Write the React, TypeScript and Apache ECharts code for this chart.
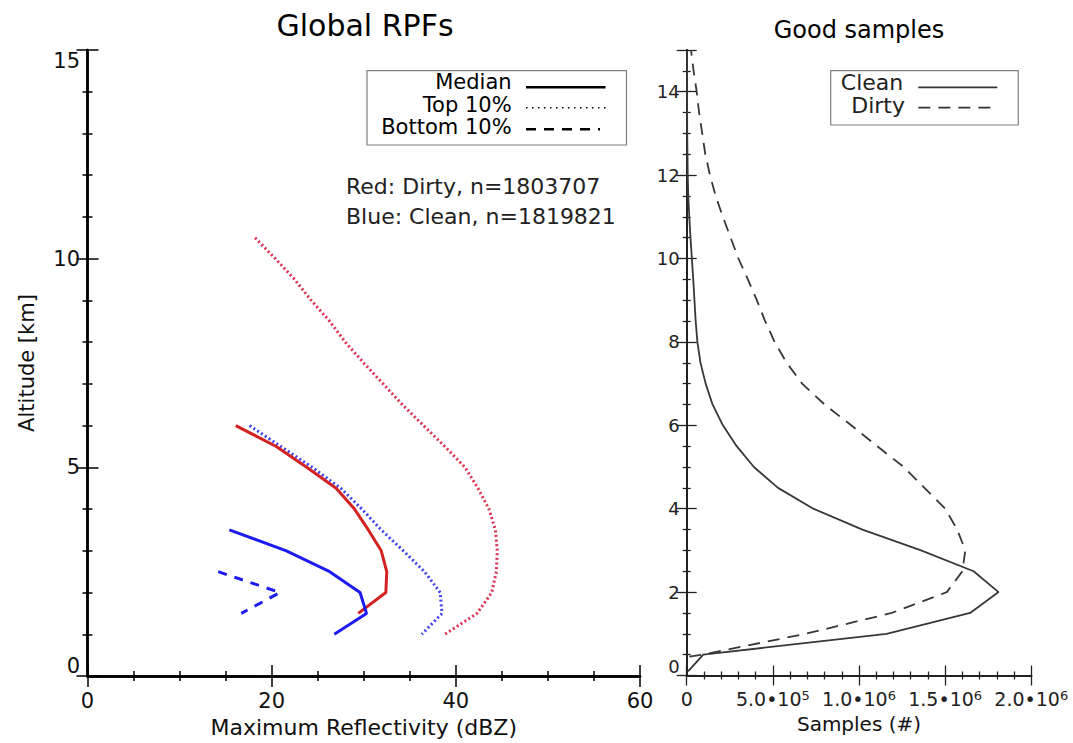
import React, { useEffect, useRef } from "react";
import * as echarts from "echarts";

// ---- Left panel: Global RPFs (x = dBZ, y = altitude km) ----
const redMedianDBZ = [16.1, 20.5, 23.8, 27.0, 29.0, 30.5, 31.9, 32.5, 32.4, 29.4];
const redMedianAlt = [6.0, 5.5, 5.0, 4.5, 4.0, 3.5, 3.0, 2.5, 2.0, 1.5];

const redTopDBZ = [18.2, 20.4, 22.5, 24.3, 26.3, 28.0, 30.0, 32.1, 34.2, 36.5, 38.8, 41.0, 42.4, 43.6, 44.3, 44.5, 44.4, 43.9, 42.3, 38.8];
const redTopAlt = [10.5, 10.0, 9.5, 9.0, 8.5, 8.0, 7.5, 7.0, 6.5, 6.0, 5.5, 5.0, 4.5, 4.0, 3.5, 3.0, 2.5, 2.0, 1.5, 1.0];

const blueMedianDBZ = [15.4, 21.6, 26.3, 29.6, 30.3, 26.8];
const blueMedianAlt = [3.5, 3.0, 2.5, 2.0, 1.5, 1.0];

const blueTopDBZ = [17.6, 21.0, 24.4, 27.5, 29.8, 31.9, 34.3, 36.6, 38.3, 38.5, 36.3];
const blueTopAlt = [6.0, 5.5, 5.0, 4.5, 4.0, 3.5, 3.0, 2.5, 2.0, 1.5, 1.0];

const blueBottomDBZ = [14.2, 20.9, 16.7];
const blueBottomAlt = [2.5, 2.0, 1.5];

// ---- Right panel: Good samples (x = samples, y = altitude km) ----
const cleanSamples = [8e3, 0.96e5, 1.16e6, 1.645e6, 1.81e6, 1.665e6, 1.36e6, 1.02e6, 0.735e6, 0.53e6, 0.39e6, 0.29e6, 0.21e6, 0.15e6, 0.11e6, 0.08e6, 0.062e6, 0.052e6, 0.045e6, 0.038e6, 0.03e6, 0.022e6, 0.015e6, 0.009e6, 0.006e6, 0.003e6, 0.002e6, 0.001e6];
const cleanAlt = [0.1, 0.5, 1.0, 1.5, 2.0, 2.5, 3.0, 3.5, 4.0, 4.5, 5.0, 5.5, 6.0, 6.5, 7.0, 7.5, 8.0, 8.5, 9.0, 9.5, 10.0, 10.5, 11.0, 11.5, 12.0, 13.0, 14.0, 15.0];

const dirtySamples = [1.5e4, 0.09e6, 0.69e6, 1.19e6, 1.51e6, 1.6e6, 1.617e6, 1.57e6, 1.5e6, 1.38e6, 1.26e6, 1.105e6, 0.955e6, 0.8e6, 0.67e6, 0.58e6, 0.51e6, 0.455e6, 0.407e6, 0.355e6, 0.3e6, 0.255e6, 0.21e6, 0.168e6, 0.135e6, 0.108e6, 0.09e6, 0.072e6, 0.058e6, 0.04e6, 0.025e6];
const dirtyAlt = [0.45, 0.5, 1.0, 1.5, 2.0, 2.5, 3.0, 3.5, 4.0, 4.5, 5.0, 5.5, 6.0, 6.5, 7.0, 7.5, 8.0, 8.5, 9.0, 9.5, 10.0, 10.5, 11.0, 11.5, 12.0, 12.5, 13.0, 13.5, 14.0, 14.5, 15.0];

const leftLegendLabels = ["Median", "Top 10%", "Bottom 10%"];
const rightLegendLabels = ["Clean", "Dirty"];
const annotations = ["Red: Dirty, n=1803707", "Blue: Clean, n=1819821"];

const FONT = "DejaVu Sans";

function pairs(xs: number[], ys: number[]) {
  return xs.map((x, i) => [x, ys[i]]);
}

export default function App() {
  const ref = useRef<HTMLDivElement>(null);

  useEffect(() => {
    document.body.style.margin = "0";
    if (!ref.current) return;
    const chart = echarts.init(ref.current, undefined, { renderer: "svg" });

    const g0 = { left: 87.5, top: 50, width: 552.5, height: 626.7 };
    const g1 = { left: 686.7, top: 50, width: 344.6, height: 625.5 };

    const leftAxisLine = { show: true, lineStyle: { color: "#000", width: 2.5 } };
    const rightAxisLine = { show: true, lineStyle: { color: "#222", width: 2 } };

    const leftTick = { show: true, inside: true, length: 11, lineStyle: { color: "#000", width: 1.5 } };
    const rightTick = { show: true, inside: true, length: 10, lineStyle: { color: "#222", width: 1.3 } };

    const sciFormatter = (v: number) => {
      if (v === 0) return "0";
      const e = Math.floor(Math.log10(v) + 1e-9);
      const m = (v / Math.pow(10, e)).toFixed(1);
      return m + "\u2022" + "10{sup|" + e + "}";
    };

    const legendText = (text: string, x: number, y: number, size: number, fill: string) => ({
      type: "text",
      z: 11,
      style: {
        text,
        x,
        y,
        align: "right",
        verticalAlign: "middle",
        font: `${size}px '${FONT}'`,
        lineHeight: 19,
        fill,
      },
    });

    const option: any = {
      animation: false,
      backgroundColor: "#fff",
      title: [
        {
          text: "Global RPFs",
          left: 365,
          top: 10,
          padding: 0,
          textAlign: "center",
          textStyle: { fontFamily: FONT, fontSize: 30, fontWeight: "normal", color: "#000" },
        },
        {
          text: "Good samples",
          left: 859,
          top: 18,
          padding: 0,
          textAlign: "center",
          textStyle: { fontFamily: FONT, fontSize: 24, fontWeight: "normal", color: "#000" },
        },
      ],
      grid: [
        { ...g0, containLabel: false },
        { ...g1, containLabel: false },
      ],
      xAxis: [
        {
          type: "value",
          gridIndex: 0,
          position: "bottom",
          min: 0,
          max: 60,
          interval: 20,
          splitLine: { show: false },
          axisLine: leftAxisLine,
          axisTick: leftTick,
          minorTick: { show: true, splitNumber: 4, length: 5, lineStyle: { color: "#000", width: 1.5 } },
          axisLabel: { show: true, margin: 14, fontFamily: FONT, fontSize: 21, color: "#111" },
          name: "Maximum Reflectivity (dBZ)",
          nameLocation: "middle",
          nameGap: 40,
          nameTextStyle: { fontFamily: FONT, fontSize: 22, color: "#111" },
        },
        {
          type: "value",
          gridIndex: 0,
          position: "top",
          min: 0,
          max: 60,
          interval: 20,
          splitLine: { show: false },
          axisLine: leftAxisLine,
          axisTick: leftTick,
          minorTick: { show: true, splitNumber: 4, length: 5, lineStyle: { color: "#000", width: 1.5 } },
          axisLabel: { show: false },
        },
        {
          type: "value",
          gridIndex: 1,
          position: "bottom",
          min: 0,
          max: 2000000,
          interval: 500000,
          splitLine: { show: false },
          axisLine: rightAxisLine,
          axisTick: rightTick,
          minorTick: { show: true, splitNumber: 5, length: 4, lineStyle: { color: "#222", width: 1.3 } },
          axisLabel: {
            show: true,
            margin: 13,
            fontFamily: FONT,
            fontSize: 19,
            color: "#222",
            lineHeight: 20,
            formatter: sciFormatter,
            rich: {
              sup: { fontFamily: FONT, fontSize: 13, color: "#222", verticalAlign: "top", lineHeight: 12, padding: [0, 0, 8, 0] },
            },
          },
          name: "Samples (#)",
          nameLocation: "middle",
          nameGap: 38,
          nameTextStyle: { fontFamily: FONT, fontSize: 20, color: "#111" },
        },
        {
          type: "value",
          gridIndex: 1,
          position: "top",
          min: 0,
          max: 2000000,
          interval: 500000,
          splitLine: { show: false },
          axisLine: rightAxisLine,
          axisTick: rightTick,
          minorTick: { show: true, splitNumber: 5, length: 4, lineStyle: { color: "#222", width: 1.3 } },
          axisLabel: { show: false },
        },
      ],
      yAxis: [
        {
          type: "value",
          gridIndex: 0,
          position: "left",
          min: 0,
          max: 15,
          interval: 5,
          splitLine: { show: false },
          axisLine: leftAxisLine,
          axisTick: leftTick,
          minorTick: { show: true, splitNumber: 5, length: 5, lineStyle: { color: "#000", width: 1.5 } },
          axisLabel: {
            show: true,
            margin: 7.5,
            fontFamily: FONT,
            fontSize: 21,
            color: "#111",
            verticalAlignMaxLabel: "top",
            verticalAlignMinLabel: "bottom",
          },
          name: "Altitude [km]",
          nameLocation: "middle",
          nameRotate: 90,
          nameGap: 50,
          nameTextStyle: { fontFamily: FONT, fontSize: 21, color: "#111" },
        },
        {
          type: "value",
          gridIndex: 0,
          position: "right",
          min: 0,
          max: 15,
          interval: 5,
          splitLine: { show: false },
          axisLine: leftAxisLine,
          axisTick: leftTick,
          minorTick: { show: true, splitNumber: 5, length: 5, lineStyle: { color: "#000", width: 1.5 } },
          axisLabel: { show: false },
        },
        {
          type: "value",
          gridIndex: 1,
          position: "left",
          min: 0,
          max: 15,
          interval: 2,
          splitLine: { show: false },
          axisLine: rightAxisLine,
          axisTick: rightTick,
          minorTick: { show: true, splitNumber: 4, length: 4, lineStyle: { color: "#222", width: 1.3 } },
          axisLabel: {
            show: true,
            margin: 7,
            fontFamily: FONT,
            fontSize: 18,
            color: "#222",
            showMaxLabel: false,
            verticalAlignMinLabel: "bottom",
          },
        },
        {
          type: "value",
          gridIndex: 1,
          position: "right",
          min: 0,
          max: 15,
          interval: 2,
          splitLine: { show: false },
          axisLine: rightAxisLine,
          axisTick: rightTick,
          minorTick: { show: true, splitNumber: 4, length: 4, lineStyle: { color: "#222", width: 1.3 } },
          axisLabel: { show: false },
        },
      ],
      series: [
        {
          name: "Red Top 10%",
          type: "line",
          xAxisIndex: 0,
          yAxisIndex: 0,
          symbol: "none",
          data: pairs(redTopDBZ, redTopAlt),
          lineStyle: { color: "#dc3050", width: 3, type: [2, 2.6] },
        },
        {
          name: "Blue Top 10%",
          type: "line",
          xAxisIndex: 0,
          yAxisIndex: 0,
          symbol: "none",
          data: pairs(blueTopDBZ, blueTopAlt),
          lineStyle: { color: "#4040ee", width: 3, type: [2, 2.6] },
        },
        {
          name: "Red Median",
          type: "line",
          xAxisIndex: 0,
          yAxisIndex: 0,
          symbol: "none",
          data: pairs(redMedianDBZ, redMedianAlt),
          lineStyle: { color: "#d42222", width: 3 },
        },
        {
          name: "Blue Median",
          type: "line",
          xAxisIndex: 0,
          yAxisIndex: 0,
          symbol: "none",
          data: pairs(blueMedianDBZ, blueMedianAlt),
          lineStyle: { color: "#1c1cf0", width: 3 },
        },
        {
          name: "Blue Bottom 10%",
          type: "line",
          xAxisIndex: 0,
          yAxisIndex: 0,
          symbol: "none",
          data: pairs(blueBottomDBZ, blueBottomAlt),
          lineStyle: { color: "#1c1cf0", width: 3, type: [9, 8] },
        },
        {
          name: "Clean",
          type: "line",
          xAxisIndex: 2,
          yAxisIndex: 2,
          symbol: "none",
          data: pairs(cleanSamples, cleanAlt),
          lineStyle: { color: "#383838", width: 1.8 },
        },
        {
          name: "Dirty",
          type: "line",
          xAxisIndex: 2,
          yAxisIndex: 2,
          symbol: "none",
          data: pairs(dirtySamples, dirtyAlt),
          lineStyle: { color: "#383838", width: 1.8, type: [12, 8] },
        },
      ],
      graphic: [
        // left legend
        {
          type: "rect",
          shape: { x: 367, y: 70.7, width: 259.5, height: 74.3 },
          style: { fill: "#fff", stroke: "#808080", lineWidth: 1.2 },
          z: 10,
        },
        legendText(leftLegendLabels[0], 511.6, 82.4, 21, "#000"),
        legendText(leftLegendLabels[1], 511.6, 104.7, 21, "#000"),
        legendText(leftLegendLabels[2], 511.6, 127, 21, "#000"),
        {
          type: "line",
          z: 11,
          shape: { x1: 526, y1: 87.3, x2: 605.5, y2: 87.3 },
          style: { stroke: "#000", lineWidth: 2.5 },
        },
        {
          type: "line",
          z: 11,
          shape: { x1: 526, y1: 107.7, x2: 605.5, y2: 107.7 },
          style: { stroke: "#000", lineWidth: 1.5, lineDash: [1.5, 4.5] },
        },
        {
          type: "line",
          z: 11,
          shape: { x1: 526, y1: 129.3, x2: 600, y2: 129.3 },
          style: { stroke: "#000", lineWidth: 2.5, lineDash: [10, 8] },
        },
        // annotations
        {
          type: "text",
          z: 11,
          style: { text: annotations[0], x: 346, y: 186.7, align: "left", verticalAlign: "middle", font: `22px '${FONT}'`, fill: "#222" },
        },
        {
          type: "text",
          z: 11,
          style: { text: annotations[1], x: 346, y: 216.7, align: "left", verticalAlign: "middle", font: `22px '${FONT}'`, fill: "#222" },
        },
        // right legend
        {
          type: "rect",
          shape: { x: 830.7, y: 70.7, width: 187.6, height: 54.3 },
          style: { fill: "#fff", stroke: "#808080", lineWidth: 1.2 },
          z: 10,
        },
        legendText(rightLegendLabels[0], 903.3, 82.3, 22, "#222"),
        legendText(rightLegendLabels[1], 905, 105.6, 22, "#222"),
        {
          type: "line",
          z: 11,
          shape: { x1: 918.3, y1: 87.3, x2: 997.3, y2: 87.3 },
          style: { stroke: "#333", lineWidth: 1.8 },
        },
        {
          type: "line",
          z: 11,
          shape: { x1: 918.3, y1: 107.7, x2: 997.3, y2: 107.7 },
          style: { stroke: "#333", lineWidth: 1.8, lineDash: [12, 8] },
        },
      ],
    };

    chart.setOption(option);
    return () => chart.dispose();
  }, []);

  return <div ref={ref} style={{ width: 1073, height: 743 }} />;
}
